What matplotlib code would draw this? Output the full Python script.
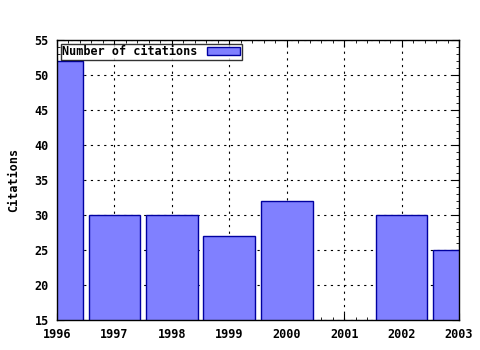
import matplotlib
matplotlib.use("Agg")
import matplotlib.pyplot as plt
from matplotlib.ticker import MultipleLocator, AutoMinorLocator

years = [1996, 1997, 1998, 1999, 2000, 2002, 2003]
citations = [52, 30, 30, 27, 32, 30, 25]
xticks = [1996, 1997, 1998, 1999, 2000, 2001, 2002, 2003]

plt.rcParams['font.family'] = 'DejaVu Sans Mono'
plt.rcParams['font.weight'] = 'bold'
plt.rcParams['font.size'] = 8

fig = plt.figure(figsize=(4.8, 3.5), dpi=100)
ax = fig.add_axes([57/480, 1 - 320/350, (459 - 57)/480, (320 - 40)/350])

ax.bar(years, citations, width=0.9, bottom=0, color='#8080ff', edgecolor='#0000a0',
       linewidth=1, label='Number of citations', zorder=2)

ax.set_xlim(1996, 2003)
ax.set_ylim(15, 55)
ax.set_xticks(xticks)
ax.yaxis.set_major_locator(MultipleLocator(5))
ax.xaxis.set_minor_locator(AutoMinorLocator(5))
ax.yaxis.set_minor_locator(AutoMinorLocator(5))
ax.tick_params(which='both', direction='in', top=True, right=True, labelsize=8.5, pad=6)
ax.tick_params(which='major', length=5)
ax.tick_params(which='minor', length=2.5)
ax.grid(True, which='major', linestyle=(0, (2, 4)), color='black', linewidth=0.8, zorder=1)
for s in ax.spines.values():
    s.set_linewidth(1)

ax.set_ylabel('Citations', fontsize=8.5, fontweight='bold', labelpad=10)

leg = ax.legend(loc='upper left', frameon=True, fancybox=False, borderpad=0.15,
                handlelength=2.8, handleheight=0.7, borderaxespad=0.3,
                prop={'family': 'DejaVu Sans Mono', 'weight': 'bold', 'size': 8.5},
                markerfirst=False)
leg.get_frame().set_edgecolor('black')
leg.get_frame().set_linewidth(1)

fig.savefig('out.png', dpi=100)
